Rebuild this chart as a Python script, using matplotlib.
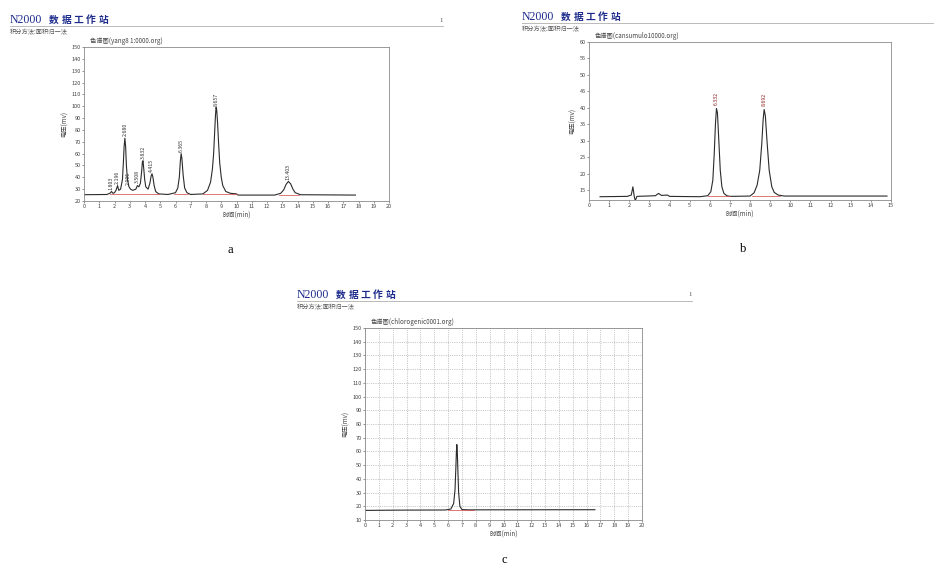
"""Three N2000 chromatograms (a, b, c) laid out as in the scanned figure."""

import matplotlib.pyplot as plt
from matplotlib.lines import Line2D

plt.rcParams["font.family"] = ["Noto Sans CJK SC", "DejaVu Sans"]

W, H = 934, 566

# ---- panel a: trace (min, mV)
a_time = [0.0, 1.5, 1.7, 1.8, 1.9, 2.0, 2.1, 2.2, 2.28, 2.4, 2.52, 2.58, 2.63, 2.68, 2.73,
          2.78, 2.85, 2.95, 3.05, 3.2, 3.4, 3.5, 3.6, 3.7, 3.78, 3.83, 3.87, 3.92, 3.98,
          4.05, 4.2, 4.32, 4.4, 4.46, 4.52, 4.6, 4.7, 4.9, 5.5, 6.0, 6.15, 6.25, 6.32,
          6.37, 6.42, 6.5, 6.6, 6.75, 7.0, 7.8, 8.1, 8.3, 8.42, 8.5, 8.56, 8.62, 8.66,
          8.7, 8.76, 8.82, 8.9, 9.0, 9.1, 9.3, 9.6, 10.0, 10.1, 12.5, 12.9, 13.1, 13.25,
          13.4, 13.55, 13.7, 13.85, 14.2, 17.8]
a_volt = [25.3, 25.5, 26.5, 28.0, 26.5, 27.0, 29.0, 33.0, 29.0, 30.0, 38.0, 52.0, 66.0, 73.0, 66.0,
          50.0, 38.0, 32.0, 30.0, 29.0, 30.0, 33.0, 32.0, 35.0, 45.0, 53.0, 54.0, 47.0, 38.0,
          32.0, 30.0, 35.0, 41.0, 43.0, 40.0, 33.0, 28.0, 26.0, 25.5, 27.0, 31.0, 40.0, 54.0,
          60.0, 56.0, 42.0, 31.0, 27.0, 25.5, 26.0, 29.0, 36.0, 47.0, 60.0, 76.0, 92.0, 99.0,
          97.0, 86.0, 70.0, 52.0, 40.0, 33.0, 28.0, 26.5, 26.0, 25.0, 25.0, 26.5, 29.5, 34.0,
          36.5, 34.5, 30.0, 27.0, 25.3, 25.0]
a_peak_t = [1.80, 2.20, 2.68, 2.92, 3.52, 3.86, 4.45, 6.37, 8.66, 13.40]
a_peak_v = [28.0, 33.0, 73.0, 32.0, 34.0, 54.0, 43.0, 60.0, 99.0, 36.5]
a_peak_lbl = ["1.803", "2.196", "2.680", "2.906", "3.508", "3.832", "4.415",
              "6.365", "8.657", "13.403"]

# ---- panel b
b_time = [0.55, 1.9, 2.1, 2.18, 2.25, 2.3, 2.38, 3.3, 3.45, 3.6, 3.9, 4.0, 5.5, 5.9,
          6.05, 6.15, 6.22, 6.28, 6.33, 6.38, 6.44, 6.52, 6.6, 6.7, 6.85, 7.0, 8.0, 8.2,
          8.35, 8.48, 8.58, 8.65, 8.7, 8.76, 8.84, 8.95, 9.08, 9.2, 9.4, 9.7, 14.8]
b_volt = [13.0, 13.1, 13.5, 16.0, 13.0, 11.8, 13.1, 13.3, 14.0, 13.4, 13.5, 13.1, 13.0, 13.3,
          14.5, 18.0, 26.0, 35.0, 39.8, 38.5, 31.0, 21.0, 16.0, 14.0, 13.3, 13.1, 13.2, 14.2,
          16.5, 21.0, 29.0, 36.5, 39.5, 37.5, 30.0, 21.0, 16.0, 14.3, 13.5, 13.2, 13.2]
b_peak_t = [6.33, 8.70]
b_peak_v = [39.8, 39.5]
b_peak_lbl = ["6.332", "8.692"]

# ---- panel c
c_time = [0.0, 2.5, 5.8, 6.2, 6.4, 6.5, 6.56, 6.6, 6.63, 6.66, 6.7, 6.76, 6.85, 7.0, 7.5, 16.6]
c_volt = [17.0, 17.2, 17.3, 18.0, 22.0, 32.0, 48.0, 60.0, 65.0, 61.0, 48.0, 30.0, 20.0, 17.6,
          17.4, 17.5]

# red integration baselines (start, end, level)
a_base = [(1.7, 4.9, 25.6), (5.9, 6.8, 25.6), (7.8, 10.0, 25.8), (12.8, 14.1, 25.2)]
b_base = [(5.9, 7.0, 13.1), (8.1, 9.5, 13.1)]
c_base = [(6.0, 7.9, 17.3)]

TRACE = "#2b2b2b"
RED = "#d04040"
BLUE = "#1c2a8c"
FRAME = "#8a8a8a"


def fx(x):
    return x / W


def fy(y):
    return 1 - y / H


def rect(left, top, right, bottom):
    return [fx(left), fy(bottom), fx(right) - fx(left), fy(top) - fy(bottom)]


def header(x0, y0, x1, page=True):
    fig.text(fx(x0), fy(y0), "N2000", family="Liberation Serif", fontsize=8.5,
             color=BLUE, va="center")
    # the station name is printed with wide letter spacing
    for i, ch in enumerate("数据工作站"):
        fig.text(fx(x0 + 39 + i * 12.4), fy(y0), ch, fontsize=7, weight="bold",
                 color=BLUE, va="center")
    fig.add_artist(Line2D([fx(x0), fx(x1)], [fy(y0 + 6)] * 2, color="#b0b0b0", lw=0.6))
    fig.text(fx(x0), fy(y0 + 12), "积分方法:面积归一法", fontsize=4.5,
             color="#555555", va="center")
    if page:
        fig.text(fx(x1 - 4), fy(y0), "1", family="Liberation Serif", fontsize=5,
                 color="#555555", va="center")


def chromatogram(box, t, v, xmax, ylim, yticks, base, title, grid=False):
    ax = fig.add_axes(rect(*box))
    ax.plot(t, v, color=TRACE, lw=0.8)
    for s, e, lvl in base:
        ax.plot([s, e], [lvl, lvl], color=RED, lw=0.5)
    ax.set_xlim(0, xmax)
    ax.set_ylim(*ylim)
    ax.set_xticks(range(0, xmax + 1))
    ax.set_yticks(yticks)
    ax.tick_params(labelsize=4, length=1.5, width=0.4, pad=1, colors="#444444")
    for sp in ax.spines.values():
        sp.set_color(FRAME)
        sp.set_linewidth(0.6)
    if grid:
        ax.grid(True, color="#9a9a9a", ls=":", lw=0.5)
    ax.set_xlabel("时间(min)", fontsize=4.5, labelpad=1, color="#444444")
    ax.set_ylabel("电压(mv)", fontsize=4.5, labelpad=2, color="#444444")
    ax.text(0.02, 1.01, title, transform=ax.transAxes, fontsize=4.5,
            color="#444444", va="bottom")
    return ax


fig = plt.figure(figsize=(W / 100, H / 100), dpi=100)

# a
header(10, 20, 443)
ax_a = chromatogram((84, 47, 389, 201), a_time, a_volt, 20, (20, 150),
                    range(20, 151, 10), a_base, "色谱图(yang8 1:0000.org)")
for t, v, s in zip(a_peak_t, a_peak_v, a_peak_lbl):
    ax_a.text(t, v + 1.5, s, rotation=90, fontsize=3.8, ha="center", va="bottom",
              color="#333333")

# b
header(522, 17, 934, page=False)
ax_b = chromatogram((589, 42, 891, 200), b_time, b_volt, 15, (12, 60),
                    range(15, 61, 5), b_base, "色谱图(cansumulo10000.org)")
for t, v, s in zip(b_peak_t, b_peak_v, b_peak_lbl):
    ax_b.text(t, v + 1, s, rotation=90, fontsize=3.8, ha="center", va="bottom",
              color="#8b2020")

# c
header(297, 295, 692)
chromatogram((365, 328, 642, 520), c_time, c_volt, 20, (10, 150),
             range(10, 151, 10), c_base, "色谱图(chlorogenic0001.org)", grid=True)

# panel letters
for x, y, s in [(230, 250, "a"), (743, 249, "b"), (504, 560, "c")]:
    fig.text(fx(x), fy(y), s, family="Liberation Serif", fontsize=9,
             ha="center", va="center")

fig.savefig("out.png", dpi=100)
